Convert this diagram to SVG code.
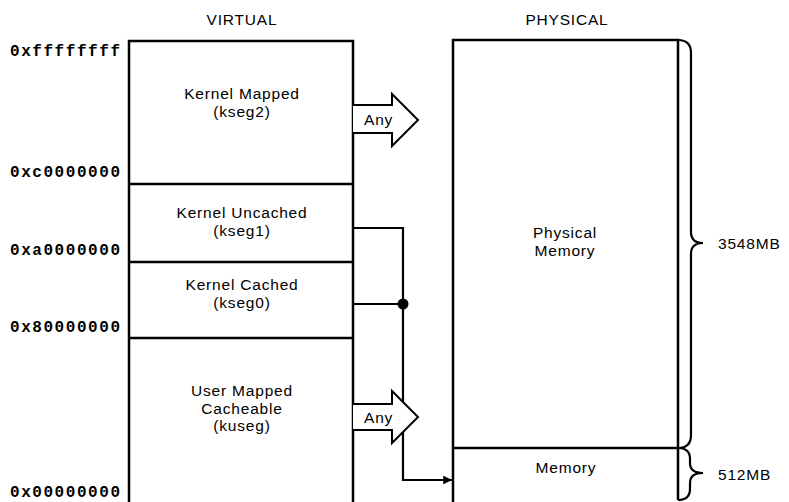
<svg xmlns="http://www.w3.org/2000/svg" width="789" height="502" viewBox="0 0 789 502">
<style>
.t{font-family:"Liberation Sans",Arial,sans-serif;font-size:15.5px;fill:#000;text-anchor:middle;letter-spacing:0.8px}
.l{font-family:"Liberation Sans",Arial,sans-serif;font-size:15.5px;fill:#000;letter-spacing:0.8px}
.h{font-family:"Liberation Mono","Courier New",monospace;font-size:16px;font-weight:bold;fill:#000}
.box{fill:none;stroke:#000;stroke-width:2.5}
.ln{fill:none;stroke:#000;stroke-width:2.2}
.arr{fill:#fff;stroke:#000;stroke-width:2;stroke-linejoin:miter}
</style>
<defs>
<marker id="ah" viewBox="0 0 10 10" refX="10" refY="5" markerWidth="7" markerHeight="4" markerUnits="strokeWidth" orient="auto">
<path d="M0,0 L10,5 L0,10 Z" fill="#000"/>
</marker>
</defs>
<rect width="789" height="502" fill="#fff"/>
<text class="t" x="242" y="25">VIRTUAL</text>
<text class="t" x="567" y="25">PHYSICAL</text>
<g id="addresses">
<text class="h" x="10" y="56" textLength="110" lengthAdjust="spacing">0xffffffff</text>
<text class="h" x="10" y="177" textLength="110" lengthAdjust="spacing">0xc0000000</text>
<text class="h" x="10" y="255" textLength="110" lengthAdjust="spacing">0xa0000000</text>
<text class="h" x="10" y="332" textLength="110" lengthAdjust="spacing">0x80000000</text>
<text class="h" x="10" y="497" textLength="110" lengthAdjust="spacing">0x00000000</text>
</g>
<g id="virtual">
<path class="box" d="M129,505 V41 H353 V505"/>
<g id="kseg2">
<text class="t" x="242" y="99">Kernel Mapped</text>
<text class="t" x="242" y="116.5">(kseg2)</text>
</g>
<g id="kseg1">
<line class="box" x1="129" y1="184" x2="353" y2="184"/>
<text class="t" x="242" y="218">Kernel Uncached</text>
<text class="t" x="242" y="235.5">(kseg1)</text>
</g>
<g id="kseg0">
<line class="box" x1="129" y1="262" x2="353" y2="262"/>
<text class="t" x="242" y="290">Kernel Cached</text>
<text class="t" x="242" y="307.5">(kseg0)</text>
</g>
<g id="kuseg">
<line class="box" x1="129" y1="338" x2="353" y2="338"/>
<text class="t" x="242" y="396">User Mapped</text>
<text class="t" x="242" y="413.5">Cacheable</text>
<text class="t" x="242" y="431">(kuseg)</text>
</g>
</g>
<g id="physical">
<path class="box" d="M453,505 V40 H678 V500"/>
<g id="physmem">
<text class="t" x="565" y="238">Physical</text>
<text class="t" x="565" y="255.5">Memory</text>
</g>
<g id="lowmem">
<line class="box" x1="453" y1="448" x2="678" y2="448"/>
<text class="t" x="566" y="473">Memory</text>
</g>
<g id="braces">
<path class="ln" d="M678,40 Q691,40 691,53 L691,232 Q691,243 703,243 Q691,243 691,254 L691,435 Q691,448 678,448"/>
<path class="ln" d="M678,448 Q690,448 690,459 L690,463 Q690,473 703,473 Q690,473 690,483 L690,489 Q690,500 678,500"/>
<text class="l" x="718" y="249">3548MB</text>
<text class="l" x="718" y="480">512MB</text>
</g>
</g>
<g id="connectors">
<path class="ln" d="M353,228 H403 V480 H452" marker-end="url(#ah)"/>
<line class="ln" x1="353" y1="304" x2="403" y2="304"/>
<circle cx="403" cy="304" r="5.5" fill="#000"/>
<g id="any-top">
<path class="arr" d="M353,105 H392 V94 L418,120 L392,146 V133 H353"/>
<text class="l" x="364" y="125">Any</text>
</g>
<g id="any-bottom">
<path class="arr" d="M353,404 H392 V391 L418,417 L392,443 V430 H353"/>
<text class="l" x="364" y="423">Any</text>
</g>
</g>
</svg>
